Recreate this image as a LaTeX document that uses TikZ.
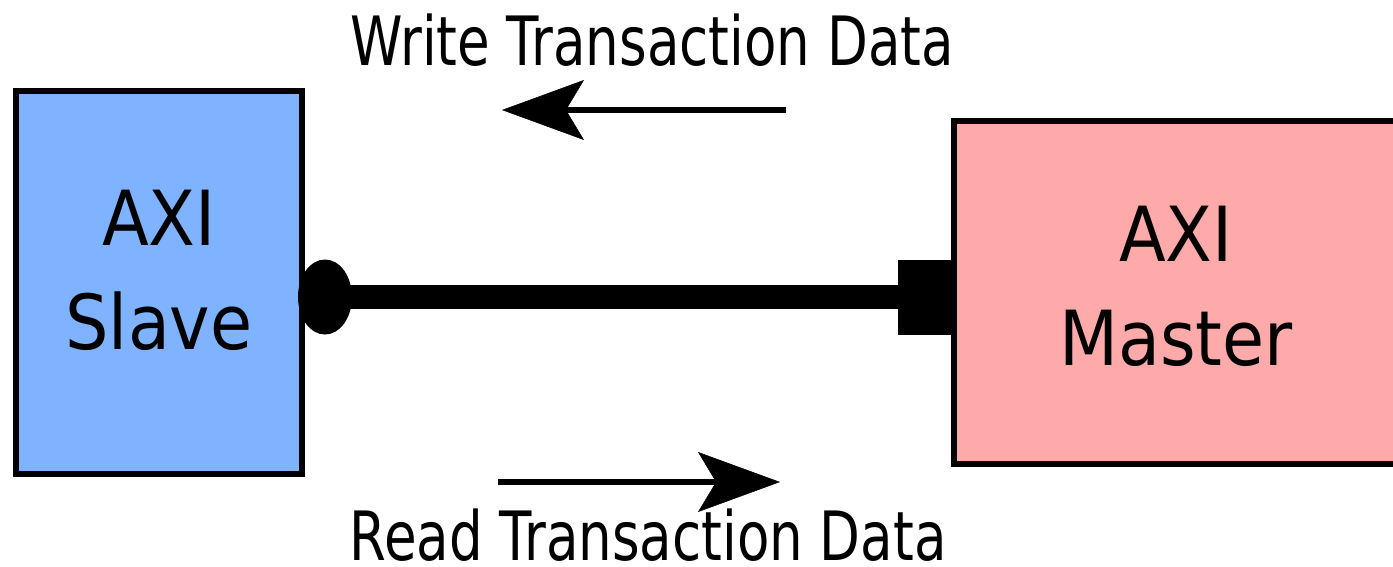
\documentclass[tikz,border=0pt]{standalone}
\usepackage{fontspec}
\setmainfont{DejaVu Sans}
\newfontfamily\boxfont[FakeStretch=0.9]{DejaVu Sans}
\newfontfamily\labelfont[FakeStretch=0.78]{DejaVu Sans}
\usetikzlibrary{arrows.meta,shapes.geometric}
\definecolor{slaveblue}{HTML}{80B3FF}
\definecolor{masterpink}{HTML}{FFAAAA}

\begin{document}
\begin{tikzpicture}[x=1pt,y=-1pt,
  unit/.style={draw=black, line width=6pt, inner sep=0pt, align=center, font=\boxfont\fontsize{76}{104}\selectfont},
  port/.style={fill=black, inner sep=0pt, minimum width=54pt, minimum height=75pt},
  flow/.style={line width=6pt, -{Stealth[length=82pt, width=60pt, inset=18pt, line width=0.5pt]}},
  caption/.style={anchor=base, font=\labelfont\fontsize{68}{80}\selectfont}]
\useasboundingbox (0,0) rectangle (1393,566);
\fill[white] (0,0) rectangle (1393,566);

% Slave side
\node[unit, fill=slaveblue, minimum width=286pt, minimum height=383pt, text depth=25pt] (slave) at (159,282.5) {AXI\\Slave};
\node[port, ellipse] (slaveport) at (325,297) {};

% Master side
\node[unit, fill=masterpink, minimum width=445pt, minimum height=343pt, text depth=14pt] (master) at (1176,292.5) {AXI\\Master};
\node[port, rectangle] (masterport) at (925,297) {};

% Bus
\draw[line width=24pt] (slaveport.center) -- (masterport.center);

% Write channel
\node[caption] (writecap) at (652,65) {Write Transaction Data};
\coordinate (wtail) at (786,110);
\coordinate (whead) at (502,110);
\draw[flow] (wtail) -- (whead);

% Read channel
\node[caption] (readcap) at (648,560) {Read Transaction Data};
\coordinate (rtail) at (498,482);
\coordinate (rhead) at (780,482);
\draw[flow] (rtail) -- (rhead);
\end{tikzpicture}
\end{document}
